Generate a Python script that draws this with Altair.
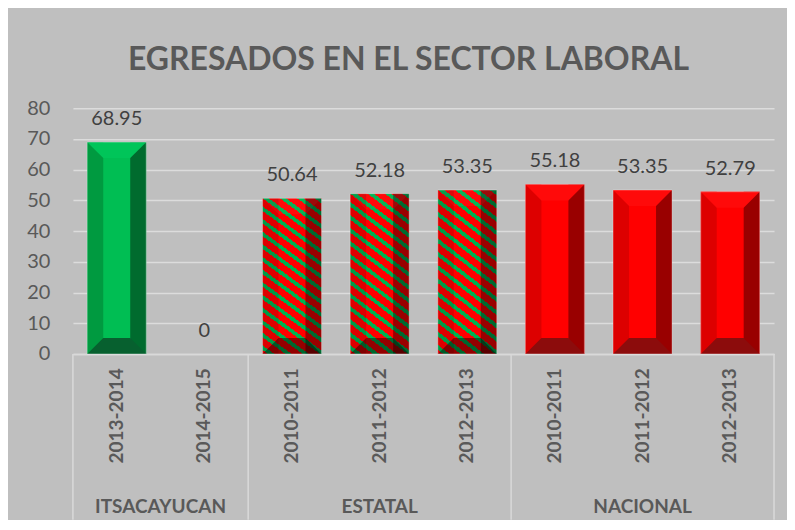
import altair as alt
import pandas as pd

# ---- data ----
grupos = ["ITSACAYUCAN", "ITSACAYUCAN", "ESTATAL", "ESTATAL", "ESTATAL",
          "NACIONAL", "NACIONAL", "NACIONAL"]
periodos = ["2013-2014", "2014-2015", "2010-2011", "2011-2012", "2012-2013",
            "2010-2011", "2011-2012", "2012-2013"]
valores = [68.95, 0, 50.64, 52.18, 53.35, 55.18, 53.35, 52.79]
nombres_grupo = ["ITSACAYUCAN", "ESTATAL", "NACIONAL"]
ticks_y = [0, 10, 20, 30, 40, 50, 60, 70, 80]

df = pd.DataFrame({"grupo": grupos, "periodo": periodos, "valor": valores})
df["clave"] = df["grupo"] + "|" + df["periodo"]
orden = list(df["clave"])

# group label anchors / separators derived from the category lists
even_rows, odd_rows, sep_left, sep_right = [], [], [], []
for g in nombres_grupo:
    keys = [k for k, gg in zip(orden, grupos) if gg == g]
    sep_left.append({"clave": keys[0]})
    if len(keys) % 2 == 0:
        even_rows.append({"clave": keys[len(keys) // 2], "grupo": g})
    else:
        odd_rows.append({"clave": keys[len(keys) // 2], "grupo": g})
sep_right.append({"clave": orden[-1]})

W, H = 702, 246
BAR, BEV = 59, 16
TXT = "#595959"
FONT = "Lato"

xscale = alt.Scale(domain=orden, paddingInner=0, paddingOuter=0)
xaxis = alt.Axis(title=None, labelExpr="split(datum.label, '|')[1]",
                 labelAngle=-90, labelAlign="right", labelBaseline="middle",
                 labelFont=FONT, labelFontSize=19, labelFontWeight="bold",
                 labelColor=TXT, labelPadding=14, ticks=False, tickSize=0,
                 domain=True, domainColor="#D9D9D9", domainWidth=1.5, grid=False)
yscale = alt.Scale(domain=[0, 80], nice=False, zero=True)
yaxis = alt.Axis(title=None, values=ticks_y, labelFont=FONT, labelFontSize=20,
                 labelColor=TXT, labelPadding=23, ticks=False, tickSize=0,
                 domain=False, grid=True, gridColor="#DCDCDC", gridWidth=1.5)


def X(bp=None):
    if bp is None:
        return alt.X("clave:N", sort=orden, scale=xscale, axis=xaxis)
    return alt.X("clave:N", sort=orden, scale=xscale, axis=xaxis, bandPosition=bp)


def Y(field="valor"):
    return alt.Y(f"{field}:Q", scale=yscale, axis=yaxis)


def col(a, b, c):
    return (f"datum.grupo == 'ITSACAYUCAN' ? '{a}' : "
            f"(datum.grupo == 'ESTATAL' ? '{b}' : '{c}')")


RED = "#FF0000"
GREEN = "#00B050"

# diagonal hatch as a hard-stop linear gradient (bbox units)
Wb, Hb, k = BAR, 160.0, 0.75
cc = (k * Wb + Hb) / (k * k * Wb * Wb + Hb * Hb)
gx2 = cc * k * Wb
gy2 = 1 - cc * Hb
period = 13.0 / (k * Wb + Hb)
gfrac = 0.36
stops = [{"offset": 0, "color": RED}]
i = 0
while True:
    gs = 0.02 + i * period
    if gs >= 1:
        break
    ge = min(gs + gfrac * period, 1)
    stops += [{"offset": round(gs, 4), "color": RED},
              {"offset": round(gs, 4), "color": GREEN},
              {"offset": round(ge, 4), "color": GREEN},
              {"offset": round(ge, 4), "color": RED}]
    i += 1
stops.append({"offset": 1, "color": RED})
hatch = {"gradient": "linear", "x1": 0, "y1": 1, "x2": round(gx2, 4),
         "y2": round(gy2, 4), "stops": stops}

base = alt.Chart(df)
pos = base.transform_filter("datum.valor > 0")

solid = pos.transform_filter("datum.grupo != 'ESTATAL'").transform_calculate(
    c=col("#00BE53", "#FF0000", "#FF0000")
).mark_bar(width=BAR).encode(x=X(), y=Y(), fill=alt.Fill("c:N", scale=None))

hatched = pos.transform_filter("datum.grupo == 'ESTATAL'").mark_bar(
    width=BAR, color=hatch).encode(x=X(), y=Y())

off = (BAR - BEV) / 2
left = pos.transform_calculate(c=col("#009A40", "rgba(0,0,0,0.13)", "#DD0000")).mark_bar(
    width=BEV, xOffset=-off).encode(x=X(), y=Y(), fill=alt.Fill("c:N", scale=None))
right = pos.transform_calculate(c=col("#006B2E", "rgba(0,0,0,0.40)", "#990000")).mark_bar(
    width=BEV, xOffset=off).encode(x=X(), y=Y(), fill=alt.Fill("c:N", scale=None))

r = BAR / 2
bev = BEV / r
inn = (r - BEV) / r
top_path = f"M-1,0 L1,0 L{inn:.4f},{bev:.4f} L-{inn:.4f},{bev:.4f} Z"
bot_path = f"M-1,0 L1,0 L{inn:.4f},-{bev:.4f} L-{inn:.4f},-{bev:.4f} Z"

top = pos.transform_calculate(c=col("#00C559", "rgba(255,255,255,0.04)", "#FF0A0A")).mark_point(
    shape=top_path, size=BAR * BAR, filled=True, opacity=1, strokeWidth=0
).encode(x=X(), y=Y(), fill=alt.Fill("c:N", scale=None))
bottom = pos.transform_calculate(c=col("#07602F", "rgba(0,0,0,0.42)", "#8C0C0C"),
                                 cero="0").mark_point(
    shape=bot_path, size=BAR * BAR, filled=True, opacity=1, strokeWidth=0
).encode(x=X(), y=Y("cero"), fill=alt.Fill("c:N", scale=None))

outline = pos.mark_bar(width=BAR, fillOpacity=0, stroke="#FFFFFF",
                       strokeOpacity=0.3, strokeWidth=1).encode(x=X(), y=Y())

labels = base.mark_text(dy=-17, baseline="alphabetic", font=FONT, fontSize=20,
                        color="#404040").encode(x=X(), y=Y(), text=alt.Text("valor:Q"))

gl_even = alt.Chart(pd.DataFrame(even_rows)).mark_text(
    font=FONT, fontSize=19, fontWeight="bold", color=TXT, baseline="alphabetic"
).encode(x=X(0), y=alt.value(H + 159), text="grupo:N")
gl_odd = alt.Chart(pd.DataFrame(odd_rows)).mark_text(
    font=FONT, fontSize=19, fontWeight="bold", color=TXT, baseline="alphabetic"
).encode(x=X(0.5), y=alt.value(H + 159), text="grupo:N")

sep_a = alt.Chart(pd.DataFrame(sep_left)).transform_calculate(cero="0").mark_rule(
    color="#D9D9D9", strokeWidth=1.5).encode(x=X(0), y=Y("cero"), y2=alt.value(H + 166))
sep_b = alt.Chart(pd.DataFrame(sep_right)).transform_calculate(cero="0").mark_rule(
    color="#D9D9D9", strokeWidth=1.5).encode(x=X(1), y=Y("cero"), y2=alt.value(H + 166))

chart = alt.layer(
    solid, hatched, left, right, top, bottom, outline, labels,
    sep_a, sep_b, gl_even, gl_odd
).properties(
    width=W, height=H,
    title=alt.TitleParams("EGRESADOS EN EL SECTOR LABORAL", font=FONT, fontSize=32,
                          fontWeight="bold", color=TXT, anchor="middle", dx=-15,
                          dy=30, offset=26, baseline="alphabetic"),
    autosize=alt.AutoSizeParams(type="none"),
    padding={"left": 65, "top": 100, "right": 13, "bottom": 166},
    background="#BFBFBF",
).configure_view(stroke=None)

chart.save("out.html", embed_options={"renderer": "svg", "actions": False})
